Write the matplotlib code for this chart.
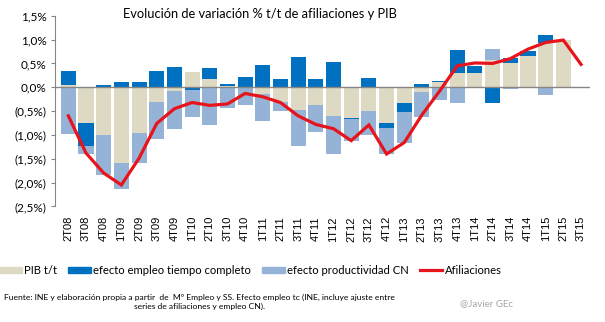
import matplotlib.pyplot as plt
import numpy as np
from matplotlib.ticker import FuncFormatter, MultipleLocator
from matplotlib.lines import Line2D
from matplotlib.patches import Patch

# quarterly data, % t/t
quarters = ["2T08", "3T08", "4T08", "1T09", "2T09", "3T09", "4T09", "1T10",
            "2T10", "3T10", "4T10", "1T11", "2T11", "3T11", "4T11", "1T12",
            "2T12", "3T12", "4T12", "1T13", "2T13", "3T13", "4T13", "1T14",
            "2T14", "3T14", "4T14", "1T15", "2T15", "3T15"]
pib = [0.05, -0.74, -1.00, -1.58, -0.95, -0.30, -0.07, 0.31,
       0.17, 0.02, -0.02, -0.14, -0.30, -0.48, -0.37, -0.60,
       -0.64, -0.50, -0.76, -0.32, -0.10, 0.11, 0.29, 0.30,
       0.58, 0.51, 0.66, 0.92, 0.99, np.nan]
empleo_tc = [0.29, -0.49, 0.05, 0.10, 0.10, 0.34, 0.43, -0.05,
             0.24, 0.05, 0.21, 0.46, 0.17, 0.64, 0.17, 0.53,
             -0.02, 0.20, -0.09, -0.19, 0.06, 0.02, 0.50, 0.15,
             -0.32, 0.10, 0.11, 0.17, 0.00, np.nan]
productividad = [-0.98, -0.17, -0.85, -0.55, -0.63, -0.79, -0.81, -0.58,
                 -0.80, -0.44, -0.35, -0.56, -0.20, -0.76, -0.57, -0.80,
                 -0.46, -0.50, -0.55, -0.65, -0.52, -0.27, -0.32, 0.00,
                 0.22, -0.03, 0.00, -0.16, 0.00, np.nan]
afiliaciones = [-0.60, -1.38, -1.80, -2.05, -1.49, -0.76, -0.45, -0.32,
                -0.38, -0.35, -0.13, -0.20, -0.32, -0.60, -0.78, -0.87,
                -1.12, -0.79, -1.40, -1.16, -0.58, -0.08, 0.45, 0.51,
                0.50, 0.60, 0.80, 0.94, 0.99, 0.48]

c_pib = "#DDD9C3"
c_emp = "#0070C0"
c_prod = "#95B3D7"
c_afil = "#E8141B"
grey = "#868686"

calibri = ["Lato", "DejaVu Sans"]

fig = plt.figure(figsize=(6.05, 3.22), dpi=100)
ax = fig.add_axes([0.091, 0.359, 0.884, 0.592])

x = np.arange(len(quarters))
pos_base = np.zeros(len(x))
neg_base = np.zeros(len(x))
# stack positives upward and negatives downward, series by series
for vals, col in [(pib, c_pib), (empleo_tc, c_emp), (productividad, c_prod)]:
    v = np.nan_to_num(np.array(vals, dtype=float))
    bottom = np.where(v >= 0, pos_base, neg_base)
    ax.bar(x, v, bottom=bottom, width=0.85, color=col, linewidth=0, zorder=2)
    pos_base += np.where(v > 0, v, 0)
    neg_base += np.where(v < 0, v, 0)

ax.plot(x, afiliaciones, color=c_afil, linewidth=2.3, zorder=4,
        solid_joinstyle="miter")
ax.axhline(0, color=grey, linewidth=1, zorder=3)

ax.set_xlim(-0.75, len(x) - 0.5)
ax.set_ylim(-2.5, 1.5)
ax.yaxis.set_major_locator(MultipleLocator(0.5))


def pct(v, _):
    s = f"{abs(v):.1f}".replace(".", ",") + "%"
    return f"({s})" if v < -1e-9 else s


ax.yaxis.set_major_formatter(FuncFormatter(pct))
for side in ["top", "right", "bottom"]:
    ax.spines[side].set_visible(False)
ax.spines["left"].set_color(grey)
ax.tick_params(axis="y", length=3, color=grey, labelsize=8.5, pad=3)
ax.set_xticks(x)
ax.set_xticklabels(quarters, rotation=90, fontsize=8, family="Liberation Sans")
ax.tick_params(axis="x", length=0, pad=7)
for lab in ax.get_yticklabels():
    lab.set_family(calibri)

fig.text(0.43, 0.955, "Evolución de variación % t/t de afiliaciones y PIB",
         ha="center", va="center", fontsize=9.3, family=calibri)

handles = [Patch(color=c_pib), Patch(color=c_emp), Patch(color=c_prod),
           Line2D([], [], color=c_afil, linewidth=2.3)]
labels = ["PIB t/t", "efecto empleo tiempo completo",
          "efecto productividad CN", "Afiliaciones"]
fig.legend(handles, labels, loc="center", bbox_to_anchor=(0.414, 0.16),
           ncol=4, frameon=False, prop={"family": calibri, "size": 8.1},
           handlelength=2.0, handleheight=0.5, columnspacing=1.0,
           handletextpad=0.2)

fig.text(0.329, 0.063,
         "Fuente: INE y elaboración propia a partir  de  Mº Empleo y SS. Efecto empleo tc (INE, incluye ajuste entre\n"
         "series de afiliaciones y empleo CN).",
         ha="center", va="center", fontsize=6.1, family=calibri,
         multialignment="center", linespacing=1.35)
fig.text(0.76, 0.058, "@Javier GEc", ha="left", va="center", fontsize=7,
         color="#A6A6A6", family=calibri)

fig.savefig("out.png", dpi=100)
